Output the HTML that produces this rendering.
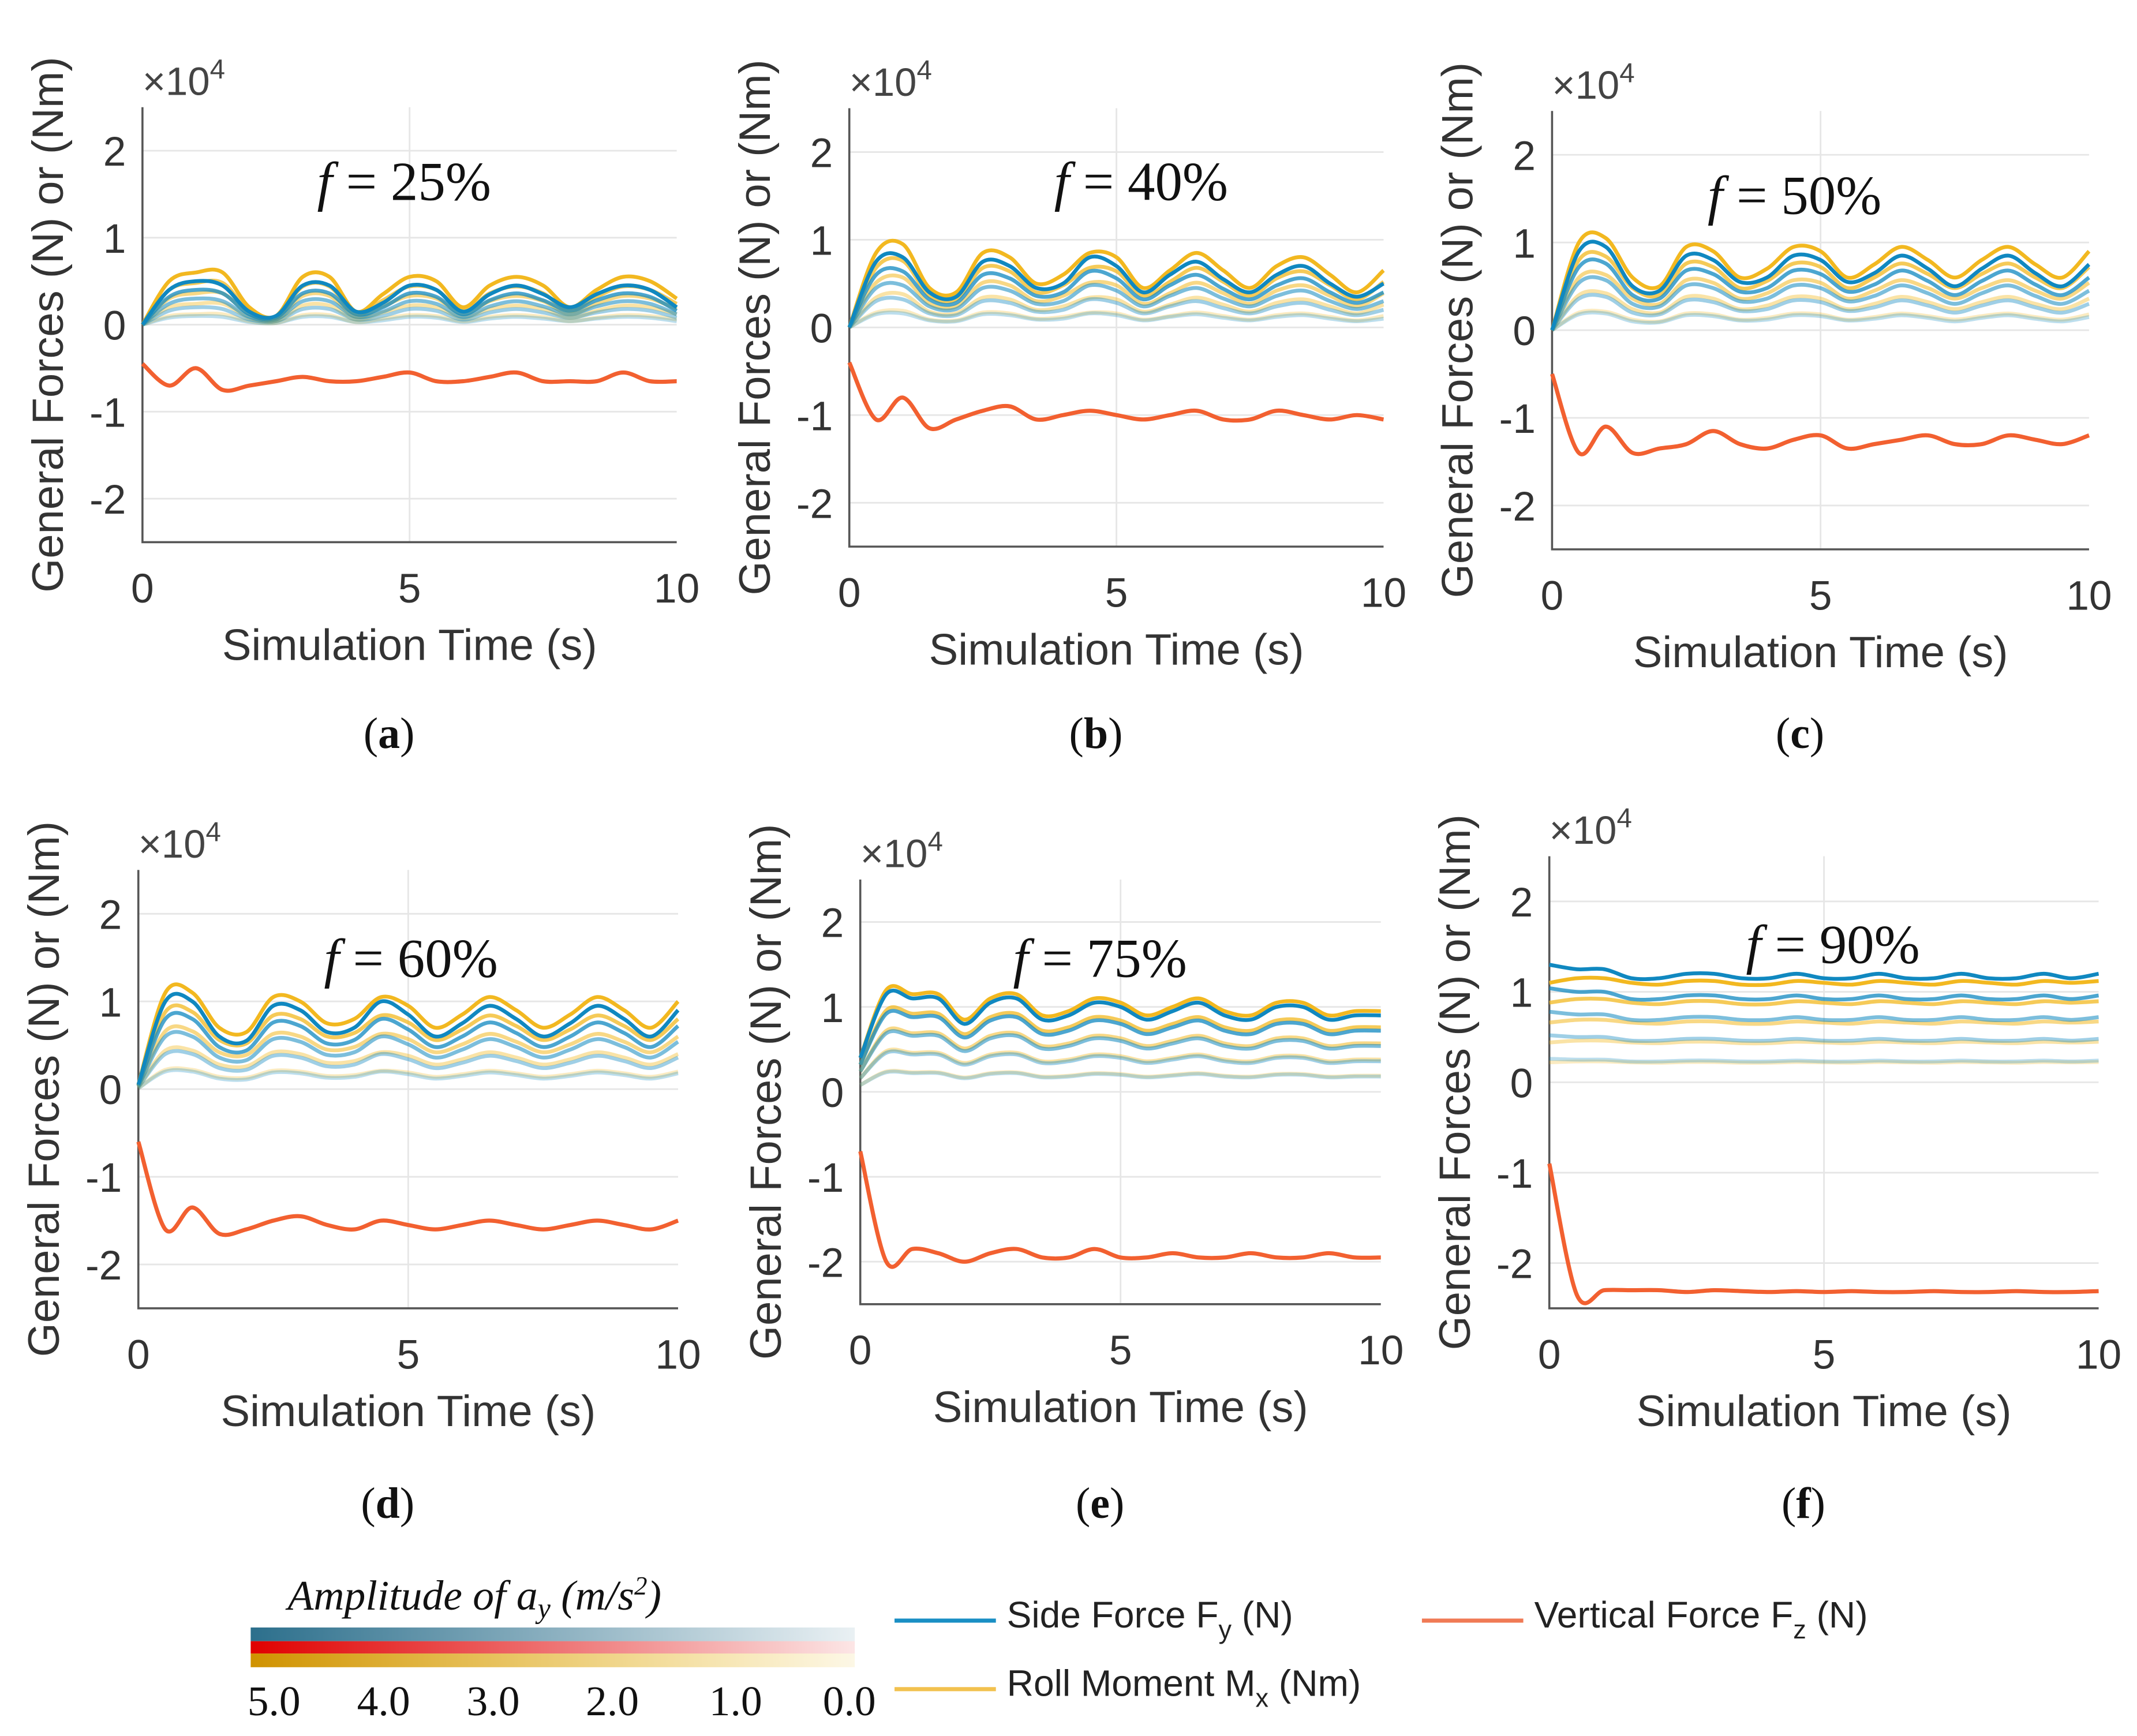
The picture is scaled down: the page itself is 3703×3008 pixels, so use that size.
<!DOCTYPE html>
<html><head><meta charset="utf-8"><style>
html,body{margin:0;padding:0;background:#fff;}
svg{display:block;}
</style></head><body>
<svg id="fig" xmlns="http://www.w3.org/2000/svg" width="3703" height="3008" viewBox="0 0 1560 1267.2">
<rect width="1560" height="1267.2" fill="#fff"/>
<g id="panels"></g>
<g>
  <text x="210" y="1175" font-family="Liberation Serif, serif" font-style="italic" font-size="31" fill="#111">Amplitude of a<tspan font-size="21" dy="6">y</tspan><tspan dy="-6"> (m/s</tspan><tspan font-size="19" dy="-11">2</tspan><tspan dy="11">)</tspan></text>
  <defs>
    <linearGradient id="gb" x1="0" x2="1"><stop offset="0" stop-color="#2c6f8c"/><stop offset="1" stop-color="#2c6f8c" stop-opacity="0.1"/></linearGradient>
    <linearGradient id="gr" x1="0" x2="1"><stop offset="0" stop-color="#e00000"/><stop offset="1" stop-color="#e00000" stop-opacity="0.1"/></linearGradient>
    <linearGradient id="gy" x1="0" x2="1"><stop offset="0" stop-color="#cf9200"/><stop offset="1" stop-color="#e8b000" stop-opacity="0.1"/></linearGradient>
  </defs>
  <rect x="183" y="1188" width="441" height="10" fill="url(#gb)"/>
  <rect x="183" y="1198" width="441" height="9" fill="url(#gr)"/>
  <rect x="183" y="1207" width="441" height="10" fill="url(#gy)"/>
  <g font-family="Liberation Serif, serif" font-size="31" fill="#111" text-anchor="middle">
    <text x="200" y="1252">5.0</text>
    <text x="280" y="1252">4.0</text>
    <text x="360" y="1252">3.0</text>
    <text x="447" y="1252">2.0</text>
    <text x="537" y="1252">1.0</text>
    <text x="620" y="1252">0.0</text>
  </g>
  <line x1="653" y1="1183" x2="727" y2="1183" stroke="#1a8fc4" stroke-width="3"/>
  <text x="735" y="1188" font-family="Liberation Sans, sans-serif" font-size="27" fill="#222">Side Force F<tspan font-size="19" dy="8">y</tspan><tspan dy="-8"> (N)</tspan></text>
  <line x1="653" y1="1233" x2="727" y2="1233" stroke="#f2c14e" stroke-width="3"/>
  <text x="735" y="1238" font-family="Liberation Sans, sans-serif" font-size="27" fill="#222">Roll Moment M<tspan font-size="19" dy="8">x</tspan><tspan dy="-8"> (Nm)</tspan></text>
  <line x1="1038" y1="1183" x2="1112" y2="1183" stroke="#f07a55" stroke-width="3"/>
  <text x="1120" y="1188" font-family="Liberation Sans, sans-serif" font-size="27" fill="#222">Vertical Force F<tspan font-size="19" dy="8">z</tspan><tspan dy="-8"> (N)</tspan></text>
</g>
</svg>
<script>
// time samples (s)
var times = [0,0.5,1,1.5,2,2.5,3,3.5,4,4.5,5,5.5,6,6.5,7,7.5,8,8.5,9,9.5,10];
var yTicks = [-2,-1,0,1,2];
var xTicks = [0,5,10];
var levels = [1.0,0.8,0.6,0.4,0.2];
var levelAlpha = [1.0,0.75,0.55,0.4,0.28];
var panelTitles = ["25%","40%","50%","60%","75%","90%"];
// Side force Fy (x10^4) at max amplitude
var fyA = [0,0.4,0.5,0.45,0.15,0.1,0.45,0.45,0.15,0.25,0.45,0.4,0.15,0.35,0.45,0.35,0.2,0.35,0.45,0.4,0.2];
var fyB = [0,0.75,0.8,0.4,0.35,0.75,0.7,0.45,0.5,0.8,0.7,0.4,0.6,0.75,0.55,0.4,0.6,0.7,0.5,0.35,0.5];
var fyC = [0,0.9,0.95,0.5,0.45,0.85,0.8,0.55,0.6,0.85,0.8,0.55,0.65,0.85,0.7,0.5,0.7,0.85,0.65,0.5,0.75];
var fyD = [0.05,1.0,1.0,0.6,0.55,0.95,0.9,0.65,0.7,1.0,0.85,0.6,0.75,0.95,0.8,0.6,0.75,0.95,0.8,0.6,0.9];
var fyE = [0.4,1.15,1.1,1.1,0.8,1.05,1.1,0.85,0.9,1.05,1.0,0.85,0.95,1.05,0.9,0.85,1.0,1.0,0.85,0.9,0.9];
var fyF = [1.3,1.25,1.25,1.15,1.15,1.2,1.2,1.15,1.15,1.2,1.15,1.15,1.2,1.15,1.15,1.2,1.15,1.15,1.2,1.15,1.2];
// Roll moment Mx (x10^4) at max amplitude
var mxA = [0,0.5,0.6,0.6,0.2,0.1,0.55,0.55,0.15,0.35,0.55,0.5,0.2,0.45,0.55,0.45,0.2,0.4,0.55,0.5,0.3];
var mxB = [0,0.85,0.95,0.45,0.4,0.85,0.8,0.5,0.6,0.85,0.8,0.45,0.65,0.85,0.65,0.45,0.7,0.8,0.6,0.4,0.65];
var mxC = [0,1.0,1.05,0.6,0.5,0.95,0.9,0.6,0.7,0.95,0.9,0.6,0.75,0.95,0.8,0.6,0.8,0.95,0.75,0.6,0.9];
var mxD = [0.05,1.1,1.1,0.7,0.65,1.05,1.0,0.75,0.8,1.05,0.95,0.7,0.85,1.05,0.9,0.7,0.85,1.05,0.9,0.7,1.0];
var mxE = [0.4,1.2,1.15,1.15,0.85,1.1,1.15,0.9,0.95,1.1,1.05,0.9,1.0,1.1,0.95,0.9,1.05,1.05,0.9,0.95,0.95];
var mxF = [1.1,1.15,1.15,1.1,1.08,1.12,1.12,1.08,1.08,1.12,1.1,1.08,1.12,1.1,1.08,1.12,1.1,1.08,1.12,1.1,1.12];
// Vertical force Fz (x10^4)
var fzA = [-0.45,-0.7,-0.5,-0.75,-0.7,-0.65,-0.6,-0.65,-0.65,-0.6,-0.55,-0.65,-0.65,-0.6,-0.55,-0.65,-0.65,-0.65,-0.55,-0.65,-0.65];
var fzB = [-0.4,-1.05,-0.8,-1.15,-1.05,-0.95,-0.9,-1.05,-1.0,-0.95,-1.0,-1.05,-1.0,-0.95,-1.05,-1.05,-0.95,-1.0,-1.05,-1.0,-1.05];
var fzC = [-0.5,-1.4,-1.1,-1.4,-1.35,-1.3,-1.15,-1.3,-1.35,-1.25,-1.2,-1.35,-1.3,-1.25,-1.2,-1.3,-1.3,-1.2,-1.25,-1.3,-1.2];
var fzD = [-0.6,-1.6,-1.35,-1.65,-1.6,-1.5,-1.45,-1.55,-1.6,-1.5,-1.55,-1.6,-1.55,-1.5,-1.55,-1.6,-1.55,-1.5,-1.55,-1.6,-1.5];
var fzE = [-0.7,-2.0,-1.85,-1.9,-2.0,-1.9,-1.85,-1.95,-1.95,-1.85,-1.95,-1.95,-1.9,-1.95,-1.95,-1.9,-1.95,-1.95,-1.9,-1.95,-1.95];
var fzF = [-0.9,-2.35,-2.3,-2.3,-2.3,-2.32,-2.3,-2.31,-2.32,-2.31,-2.32,-2.31,-2.32,-2.32,-2.31,-2.32,-2.32,-2.31,-2.32,-2.32,-2.31];
var fyAll = [fyA,fyB,fyC,fyD,fyE,fyF];
var mxAll = [mxA,mxB,mxC,mxD,mxE,mxF];
var fzAll = [fzA,fzB,fzC,fzD,fzE,fzF];

// layout (not data)
var layout = [
 {x0:104,x1:494,yz:237,u:63.5,ttl:[295,133],cap:535},
 {x0:620,x1:1010,yz:239,u:64,ttl:[833,133],cap:535},
 {x0:1133,x1:1525,yz:241,u:64,ttl:[1310,143],cap:535},
 {x0:101,x1:495,yz:795,u:64,ttl:[300,700],cap:1097},
 {x0:628,x1:1008,yz:797,u:62,ttl:[803,700],cap:1097},
 {x0:1131,x1:1532,yz:790,u:66,ttl:[1338,690],cap:1097}
];
var NS="http://www.w3.org/2000/svg";
function mk(tag, attrs, parent){var e=document.createElementNS(NS,tag);for(var k in attrs)e.setAttribute(k,attrs[k]);parent.appendChild(e);return e;}
function smooth(pts){
  var d="M"+pts[0][0]+","+pts[0][1];
  for(var i=0;i<pts.length-1;i++){
    var p0=pts[Math.max(0,i-1)],p1=pts[i],p2=pts[i+1],p3=pts[Math.min(pts.length-1,i+2)];
    d+=" C"+(p1[0]+(p2[0]-p0[0])/6)+","+(p1[1]+(p2[1]-p0[1])/6)+" "+(p2[0]-(p3[0]-p1[0])/6)+","+(p2[1]-(p3[1]-p1[1])/6)+" "+p2[0]+","+p2[1];
  }
  return d;
}
var root=document.getElementById('panels');
layout.forEach(function(L,pi){
  var xs=function(t){return L.x0+(L.x1-L.x0)*t/10;};
  var ys=function(v){return L.yz-v*L.u;};
  var g=mk('g',{},root);
  
  
  var top=ys(2.5), bot=ys(-2.5);
  yTicks.forEach(function(v){
    var l=mk('line',{x1:L.x0,x2:L.x1,y1:ys(v),y2:ys(v),stroke:'#e6e6e6','stroke-width':1.2},g);
    
    
    var t=mk('text',{x:L.x0-12,y:ys(v)+11,'text-anchor':'end','font-family':'Liberation Sans, sans-serif','font-size':30,fill:'#333'},g);
    t.textContent=String(v);
    
    
  });
  xTicks.forEach(function(v){
    if(v>0&&v<10){var l=mk('line',{x1:xs(v),x2:xs(v),y1:top,y2:bot,stroke:'#e6e6e6','stroke-width':1.2},g);
    
    }
    var t=mk('text',{x:xs(v),y:bot+44,'text-anchor':'middle','font-family':'Liberation Sans, sans-serif','font-size':30,fill:'#333'},g);
    t.textContent=String(v);
    
    
  });
  var ax=mk('path',{d:'M'+L.x0+','+top+' V'+bot+' H'+L.x1,fill:'none',stroke:'#555','stroke-width':1.5},g);
  
  
  var ex=mk('text',{x:L.x0,y:top-9,'font-family':'Liberation Sans, sans-serif','font-size':29,fill:'#444'},g);
  ex.innerHTML='×10<tspan font-size="20" dy="-12">4</tspan>';
  
  
  var yl=mk('text',{x:0,y:0,transform:'translate('+(L.x0-58)+','+((top+bot)/2)+') rotate(-90)','text-anchor':'middle','font-family':'Liberation Sans, sans-serif','font-size':32,fill:'#333'},g);
  yl.textContent='General Forces (N) or (Nm)';
  
  
  var xl=mk('text',{x:(L.x0+L.x1)/2,y:bot+86,'text-anchor':'middle','font-family':'Liberation Sans, sans-serif','font-size':32,fill:'#333'},g);
  xl.textContent='Simulation Time (s)';
  
  
  var tt=mk('text',{x:L.ttl[0],y:L.ttl[1]+13,'text-anchor':'middle','font-family':'Liberation Serif, serif','font-size':40,fill:'#111'},g);
  tt.innerHTML='<tspan font-style="italic">f</tspan>  =  '+panelTitles[pi];
  tt.setAttribute('xml:space','preserve');
  
  
  var cp=mk('text',{x:(L.x0+L.x1)/2-15,y:L.cap+11,'text-anchor':'middle','font-family':'Liberation Serif, serif','font-size':32,fill:'#111'},g);
  cp.innerHTML='(<tspan font-weight="bold">'+'abcdef'[pi]+'</tspan>)';
  
  
  for(var li=levels.length-1;li>=0;li--){
    var k=levels[li],a=levelAlpha[li];
    var pm=times.map(function(t,i){return [xs(t),ys(mxAll[pi][i]*k)];});
    var p1=mk('path',{d:smooth(pm),fill:'none',stroke:'#f2b820','stroke-opacity':a,'stroke-width':2.8},g);
    
    
    var pf=times.map(function(t,i){return [xs(t),ys(fyAll[pi][i]*k)];});
    var p2=mk('path',{d:smooth(pf),fill:'none',stroke:'#1088c0','stroke-opacity':a,'stroke-width':2.8},g);
    
    
  }
  var pz=times.map(function(t,i){return [xs(t),ys(fzAll[pi][i])];});
  var p3=mk('path',{d:smooth(pz),fill:'none',stroke:'#f26030','stroke-width':3},g);
  
  
});
</script>
</body></html>
